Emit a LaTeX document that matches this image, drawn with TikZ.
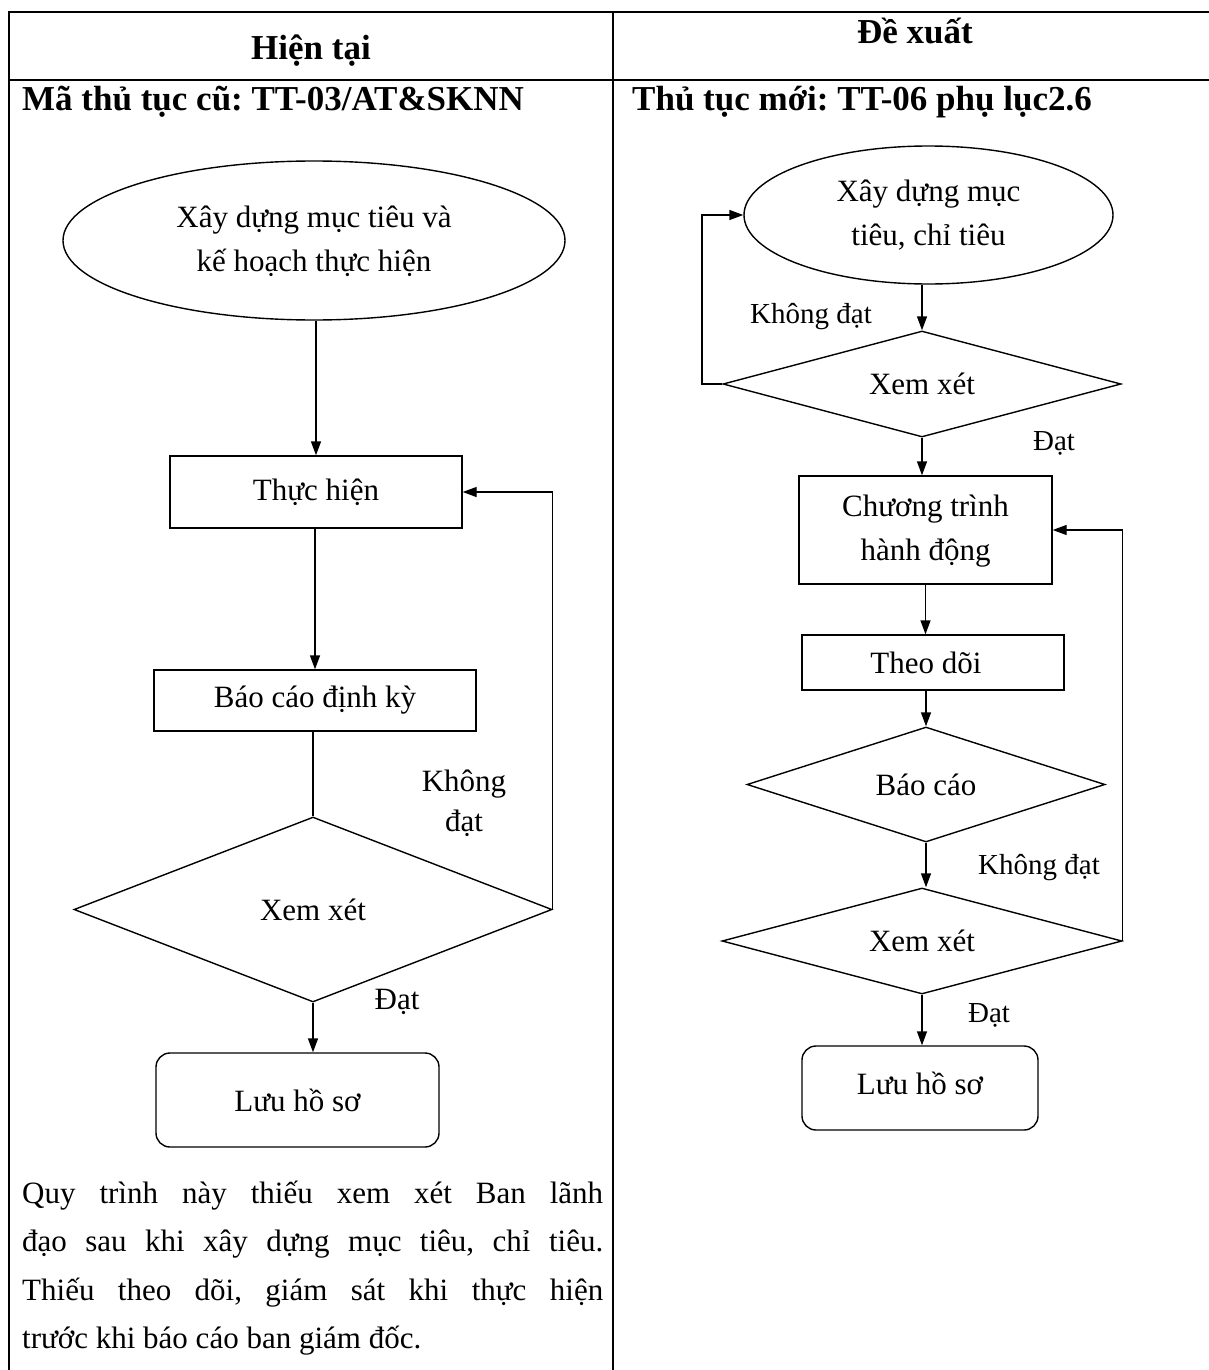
\documentclass[tikz,border=0pt]{standalone}
\usepackage{fontspec}
\setmainfont{Liberation Serif}
\usetikzlibrary{arrows.meta,shapes.geometric}
\frenchspacing
\newcommand\chartfont{\fontsize{31}{44}\selectfont}
\newcommand\smallchart{\fontsize{29}{40}\selectfont}
\newcommand\headfont{\fontsize{35}{40}\selectfont\bfseries}
\newcommand\bodyfont{\fontsize{31}{48}\selectfont}
\begin{document}
\begin{tikzpicture}[x=1pt,y=-1pt,
  grid/.style={line width=2.6pt},
  shp/.style={draw, line width=1.4pt, inner sep=0pt, align=center, font=\chartfont},
  ellipsebox/.style={shp, ellipse},
  procbox/.style={shp, rectangle},
  decide/.style={shp, diamond},
  termbox/.style={shp, rectangle, rounded corners=14pt},
  flowline/.style={line width=1.4pt},
  flowarrow/.style={flowline, -{Triangle[length=14pt,width=10pt]}},
  lbl/.style={inner sep=0pt, align=center},
  head/.style={inner sep=0pt, font=\headfont},
  bodyline/.style={inner sep=0pt, anchor=base west, font=\bodyfont}
]
\useasboundingbox (0,0) rectangle (1209,1370);

% table frame
\draw[grid] (1209,12) -- (9,12) -- (9,1370);
\draw[grid] (9,80) -- (1209,80);
\draw[grid] (613,12) -- (613,1370);

% column headings
\node[head, anchor=base] (hcur) at (311,60) {Hiện tại};
\node[head, anchor=base] (hnew) at (915,44) {Đề xuất};
\node[head, anchor=base west] (codeold) at (22,111) {Mã thủ tục cũ: TT-03/AT\&SKNN};
\node[head, anchor=base west] (codenew) at (632,111) {Thủ tục mới: TT-06 phụ lục2.6};

% ---------- current procedure ----------
\node[ellipsebox, minimum width=502pt, minimum height=159pt] (e1) at (314,240.5)
  {\raisebox{6pt}{\begin{tabular}{@{}c@{}}Xây dựng mục tiêu và\\kế hoạch thực hiện\end{tabular}}};
\node[procbox, minimum width=292pt, minimum height=72pt] (t1) at (316,492) {Thực hiện};
\node[procbox, minimum width=322pt, minimum height=61pt] (b1) at (315,700.5) {Báo cáo định kỳ};
\node[decide, aspect=2.58, minimum width=478pt, minimum height=185pt] (d1) at (313,909.5) {Xem xét};
\node[termbox, minimum width=283pt, minimum height=94pt] (l1) at (297.5,1100) {Lưu hồ sơ};

\draw[flowarrow] (e1.south -| t1.north) -- (t1.north);
\draw[flowarrow] (t1.south -| b1.north) -- (b1.north);
\draw[flowline] (b1.south -| d1.north) -- (d1.north);
\draw[flowarrow] (d1.south) -- (d1.south |- l1.north);
\draw[flowarrow] (d1.east) |- (t1.east);

\node[lbl, font=\fontsize{31}{40}\selectfont] (k1) at (464,803) {Không\\đạt};
\node[lbl, font=\chartfont] (p1) at (397,1002) {Đạt};

% ---------- proposed procedure ----------
\node[ellipsebox, minimum width=369pt, minimum height=138pt] (e2) at (928.5,215)
  {\begin{tabular}{@{}c@{}}Xây dựng mục\\tiêu, chỉ tiêu\end{tabular}};
\node[decide, aspect=3.75, minimum width=398pt, minimum height=106pt] (d2) at (922,384) {Xem xét};
\node[procbox, minimum width=253pt, minimum height=108pt] (c2) at (925.5,530)
  {\raisebox{4pt}{\begin{tabular}{@{}c@{}}Chương trình\\hành động\end{tabular}}};
\node[procbox, minimum width=262pt, minimum height=55pt] (f2) at (933,662.5) {\hspace*{-14pt}Theo dõi};
\node[decide, aspect=3.1, minimum width=358pt, minimum height=115pt] (r2) at (926,784.5) {Báo cáo};
\node[decide, aspect=3.77, minimum width=400pt, minimum height=106pt] (d3) at (922,941) {Xem xét};
\node[termbox, minimum width=236pt, minimum height=84pt] (l2) at (920,1088) {\raisebox{9pt}{Lưu hồ sơ}};

\coordinate (loopa) at (702,384);
\draw[flowarrow] (d2.north |- e2.south) -- (d2.north);
\draw[flowarrow] (d2.south) -- (d2.south |- c2.north);
\draw[flowarrow] (c2.south) -- (c2.south |- f2.north);
\draw[flowarrow] (r2.north |- f2.south) -- (r2.north);
\draw[flowarrow] (r2.south) -- (r2.south |- d3.north);
\draw[flowarrow] (d3.south) -- (d3.south |- l2.north);
\draw[flowarrow] (d2.west) -- (loopa) |- (e2.west);
\draw[flowarrow] (d3.east) |- (c2.east);

\node[lbl, font=\smallchart] (k2) at (811,317) {Không đạt};
\node[lbl, font=\smallchart] (p2) at (1054,443) {Đạt};
\node[lbl, font=\smallchart] (k3) at (1039,868) {Không đạt};
\node[lbl, font=\smallchart] (p3) at (989,1015) {Đạt};

% ---------- remark under the current procedure ----------
\node[bodyline] (n1) at (22,1203) {\makebox[581pt][s]{Quy trình này thiếu xem xét Ban lãnh}};
\node[bodyline] (n2) at (22,1251) {\makebox[581pt][s]{đạo sau khi xây dựng mục tiêu, chỉ tiêu.}};
\node[bodyline] (n3) at (22,1300) {\makebox[581pt][s]{Thiếu theo dõi, giám sát khi thực hiện}};
\node[bodyline] (n4) at (22,1348) {trước khi báo cáo ban giám đốc.};
\end{tikzpicture}
\end{document}
